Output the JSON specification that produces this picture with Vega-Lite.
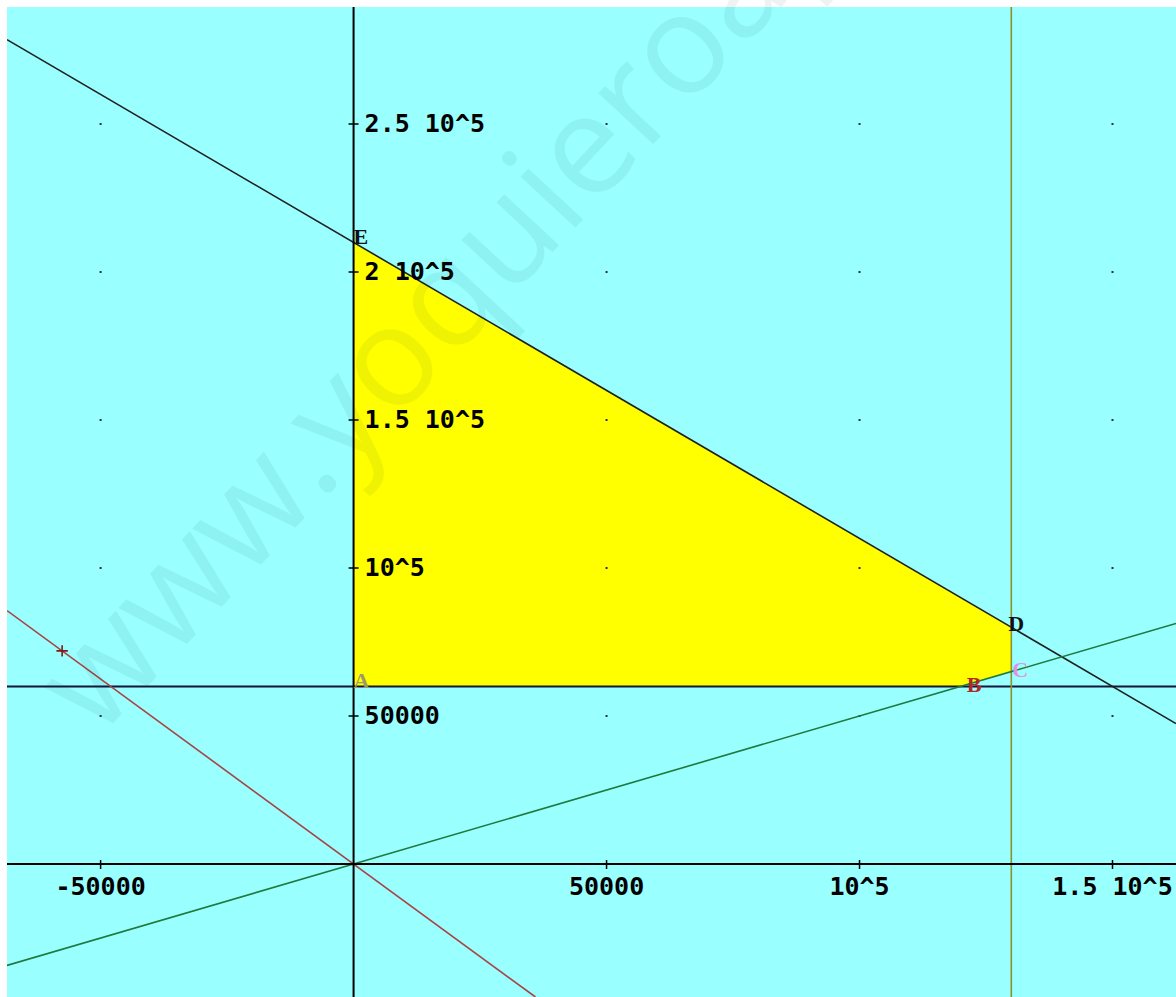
{
  "$schema": "https://vega.github.io/schema/vega-lite/v6.json",
  "width": 1169,
  "height": 990,
  "autosize": {"type": "none"},
  "padding": {"left": 7, "top": 7, "right": 0, "bottom": 0},
  "background": "#ffffff",
  "config": {"view": {"fill": "#99ffff", "stroke": null}},
  "datasets": {
    "region": [
      {"x": 0, "top": 210000, "bottom": 60000},
      {"x": 120000, "top": 90000, "bottom": 60000},
      {"x": 130000, "top": 80000, "bottom": 65000}
    ],
    "grid": [
      {"x": -50000, "y": 50000}, {"x": -50000, "y": 100000}, {"x": -50000, "y": 150000}, {"x": -50000, "y": 200000}, {"x": -50000, "y": 250000},
      {"x": 50000, "y": 50000}, {"x": 50000, "y": 100000}, {"x": 50000, "y": 150000}, {"x": 50000, "y": 200000}, {"x": 50000, "y": 250000},
      {"x": 100000, "y": 50000}, {"x": 100000, "y": 100000}, {"x": 100000, "y": 150000}, {"x": 100000, "y": 200000}, {"x": 100000, "y": 250000},
      {"x": 150000, "y": 50000}, {"x": 150000, "y": 100000}, {"x": 150000, "y": 150000}, {"x": 150000, "y": 200000}, {"x": 150000, "y": 250000}
    ],
    "lines": [
      {"line": "x + y = 210000", "x": -68500, "y": 278500},
      {"line": "x + y = 210000", "x": 162550, "y": 47450},
      {"line": "x = 130000", "x": 130000, "y": -44930},
      {"line": "x = 130000", "x": 130000, "y": 289530},
      {"line": "y = x/2", "x": -68500, "y": -34250},
      {"line": "y = x/2", "x": 162550, "y": 81275},
      {"line": "5x + 4y = 0", "x": -68500, "y": 85625},
      {"line": "5x + 4y = 0", "x": 35944, "y": -44930}
    ],
    "hline": [
      {"line": "y = 60000", "x": -68500, "y": 60000},
      {"line": "y = 60000", "x": 162550, "y": 60000}
    ],
    "axes": [
      {"axis": "X", "x": -68500, "y": 0},
      {"axis": "X", "x": 162550, "y": 0},
      {"axis": "Y", "x": 0, "y": -44930},
      {"axis": "Y", "x": 0, "y": 289530}
    ],
    "xticks": [
      {"x": -50000, "y": 0, "label": "-50000"},
      {"x": 50000, "y": 0, "label": "50000"},
      {"x": 100000, "y": 0, "label": "10^5"},
      {"x": 150000, "y": 0, "label": "1.5 10^5"}
    ],
    "yticks": [
      {"x": 0, "y": 50000, "label": "50000"},
      {"x": 0, "y": 100000, "label": "10^5"},
      {"x": 0, "y": 150000, "label": "1.5 10^5"},
      {"x": 0, "y": 200000, "label": "2 10^5"},
      {"x": 0, "y": 250000, "label": "2.5 10^5"}
    ],
    "vertices": [
      {"label": "A", "x": 0, "y": 60000},
      {"label": "B", "x": 120000, "y": 60000},
      {"label": "C", "x": 130000, "y": 65000},
      {"label": "D", "x": 130000, "y": 80000},
      {"label": "E", "x": 0, "y": 210000}
    ],
    "marker": [{"x": -57600, "y": 72000}],
    "watermark": [{"x": -50500, "y": 42000, "text": "www.yoquieroaprobar.es"}]
  },
  "layer": [
    {
      "data": {"name": "region"},
      "mark": {"type": "area", "color": "#ffff00", "interpolate": "linear", "clip": true},
      "encoding": {
        "x": {"field": "x", "type": "quantitative", "scale": {"domain": [-68500, 162550], "nice": false, "zero": false}, "axis": null},
        "y": {"field": "top", "type": "quantitative", "scale": {"domain": [-44930, 289530], "nice": false, "zero": false}, "axis": null},
        "y2": {"field": "bottom"}
      }
    },
    {
      "data": {"name": "grid"},
      "mark": {"type": "point", "shape": "square", "filled": true, "size": 4, "color": "#2a2a55", "opacity": 1},
      "encoding": {
        "x": {"field": "x", "type": "quantitative"},
        "y": {"field": "y", "type": "quantitative"}
      }
    },
    {
      "data": {"name": "hline"},
      "mark": {"type": "line", "strokeWidth": 2, "color": "#15153a", "clip": true},
      "encoding": {
        "x": {"field": "x", "type": "quantitative"},
        "y": {"field": "y", "type": "quantitative"}
      }
    },
    {
      "data": {"name": "lines"},
      "mark": {"type": "line", "strokeWidth": 1.6, "clip": true},
      "encoding": {
        "x": {"field": "x", "type": "quantitative"},
        "y": {"field": "y", "type": "quantitative"},
        "color": {"field": "line", "type": "nominal", "legend": null,
          "scale": {"domain": ["x + y = 210000", "x = 130000", "y = x/2", "5x + 4y = 0"],
                    "range": ["#202020", "#8c922e", "#1f7a3e", "#a84444"]}}
      }
    },
    {
      "data": {"name": "axes"},
      "mark": {"type": "line", "strokeWidth": 2, "color": "#000000", "clip": true},
      "encoding": {
        "x": {"field": "x", "type": "quantitative"},
        "y": {"field": "y", "type": "quantitative"},
        "detail": {"field": "axis", "type": "nominal"}
      }
    },
    {
      "data": {"name": "xticks"},
      "mark": {"type": "point", "shape": "M0,-0.8L0,1", "size": 100, "filled": false, "stroke": "#000000", "strokeWidth": 1.5, "opacity": 1},
      "encoding": {
        "x": {"field": "x", "type": "quantitative"},
        "y": {"field": "y", "type": "quantitative"}
      }
    },
    {
      "data": {"name": "xticks"},
      "mark": {"type": "text", "font": "DejaVu Sans Mono", "fontWeight": "bold", "fontSize": 25, "color": "#000000", "align": "center", "baseline": "alphabetic", "dy": 31},
      "encoding": {
        "x": {"field": "x", "type": "quantitative"},
        "y": {"field": "y", "type": "quantitative"},
        "text": {"field": "label"}
      }
    },
    {
      "data": {"name": "yticks"},
      "mark": {"type": "point", "shape": "M-1,0L1,0", "size": 100, "filled": false, "stroke": "#000000", "strokeWidth": 1.5, "opacity": 1},
      "encoding": {
        "x": {"field": "x", "type": "quantitative"},
        "y": {"field": "y", "type": "quantitative"}
      }
    },
    {
      "data": {"name": "yticks"},
      "mark": {"type": "text", "font": "DejaVu Sans Mono", "fontWeight": "bold", "fontSize": 25, "color": "#000000", "align": "left", "baseline": "alphabetic", "dx": 11, "dy": 8},
      "encoding": {
        "x": {"field": "x", "type": "quantitative"},
        "y": {"field": "y", "type": "quantitative"},
        "text": {"field": "label"}
      }
    },
    {
      "data": {"name": "vertices"},
      "transform": [{"filter": "datum.label === 'A'"}],
      "mark": {"type": "text", "font": "Liberation Serif", "fontWeight": "bold", "fontSize": 22, "color": "#9a9a6a", "align": "left", "baseline": "alphabetic", "dx": 0, "dy": 2},
      "encoding": {
        "x": {"field": "x", "type": "quantitative"},
        "y": {"field": "y", "type": "quantitative"},
        "text": {"field": "label"}
      }
    },
    {
      "data": {"name": "vertices"},
      "transform": [{"filter": "datum.label === 'B'"}],
      "mark": {"type": "text", "font": "Liberation Serif", "fontWeight": "bold", "fontSize": 22, "color": "#b02828", "align": "left", "baseline": "alphabetic", "dx": 6, "dy": 6},
      "encoding": {
        "x": {"field": "x", "type": "quantitative"},
        "y": {"field": "y", "type": "quantitative"},
        "text": {"field": "label"}
      }
    },
    {
      "data": {"name": "vertices"},
      "transform": [{"filter": "datum.label === 'C'"}],
      "mark": {"type": "text", "font": "Liberation Serif", "fontWeight": "bold", "fontSize": 22, "color": "#e090e8", "align": "left", "baseline": "alphabetic", "dx": 1, "dy": 5},
      "encoding": {
        "x": {"field": "x", "type": "quantitative"},
        "y": {"field": "y", "type": "quantitative"},
        "text": {"field": "label"}
      }
    },
    {
      "data": {"name": "vertices"},
      "transform": [{"filter": "datum.label === 'D'"}],
      "mark": {"type": "text", "font": "Liberation Serif", "fontWeight": "bold", "fontSize": 22, "color": "#111111", "align": "left", "baseline": "alphabetic", "dx": -3, "dy": 4},
      "encoding": {
        "x": {"field": "x", "type": "quantitative"},
        "y": {"field": "y", "type": "quantitative"},
        "text": {"field": "label"}
      }
    },
    {
      "data": {"name": "vertices"},
      "transform": [{"filter": "datum.label === 'E'"}],
      "mark": {"type": "text", "font": "Liberation Serif", "fontWeight": "bold", "fontSize": 22, "color": "#111111", "align": "left", "baseline": "alphabetic", "dx": 0, "dy": 2},
      "encoding": {
        "x": {"field": "x", "type": "quantitative"},
        "y": {"field": "y", "type": "quantitative"},
        "text": {"field": "label"}
      }
    },
    {
      "data": {"name": "marker"},
      "mark": {"type": "point", "shape": "M-1,0L1,0M0,-1L0,1", "size": 130, "filled": false, "stroke": "#7a1a1a", "strokeWidth": 1.6, "opacity": 1},
      "encoding": {
        "x": {"field": "x", "type": "quantitative"},
        "y": {"field": "y", "type": "quantitative"}
      }
    },
    {
      "data": {"name": "watermark"},
      "mark": {"type": "text", "font": "Open Sans", "fontSize": 140, "angle": -47, "align": "left", "baseline": "alphabetic", "color": "#003838", "opacity": 0.06},
      "encoding": {
        "x": {"field": "x", "type": "quantitative"},
        "y": {"field": "y", "type": "quantitative"},
        "text": {"field": "text"}
      }
    }
  ]
}
